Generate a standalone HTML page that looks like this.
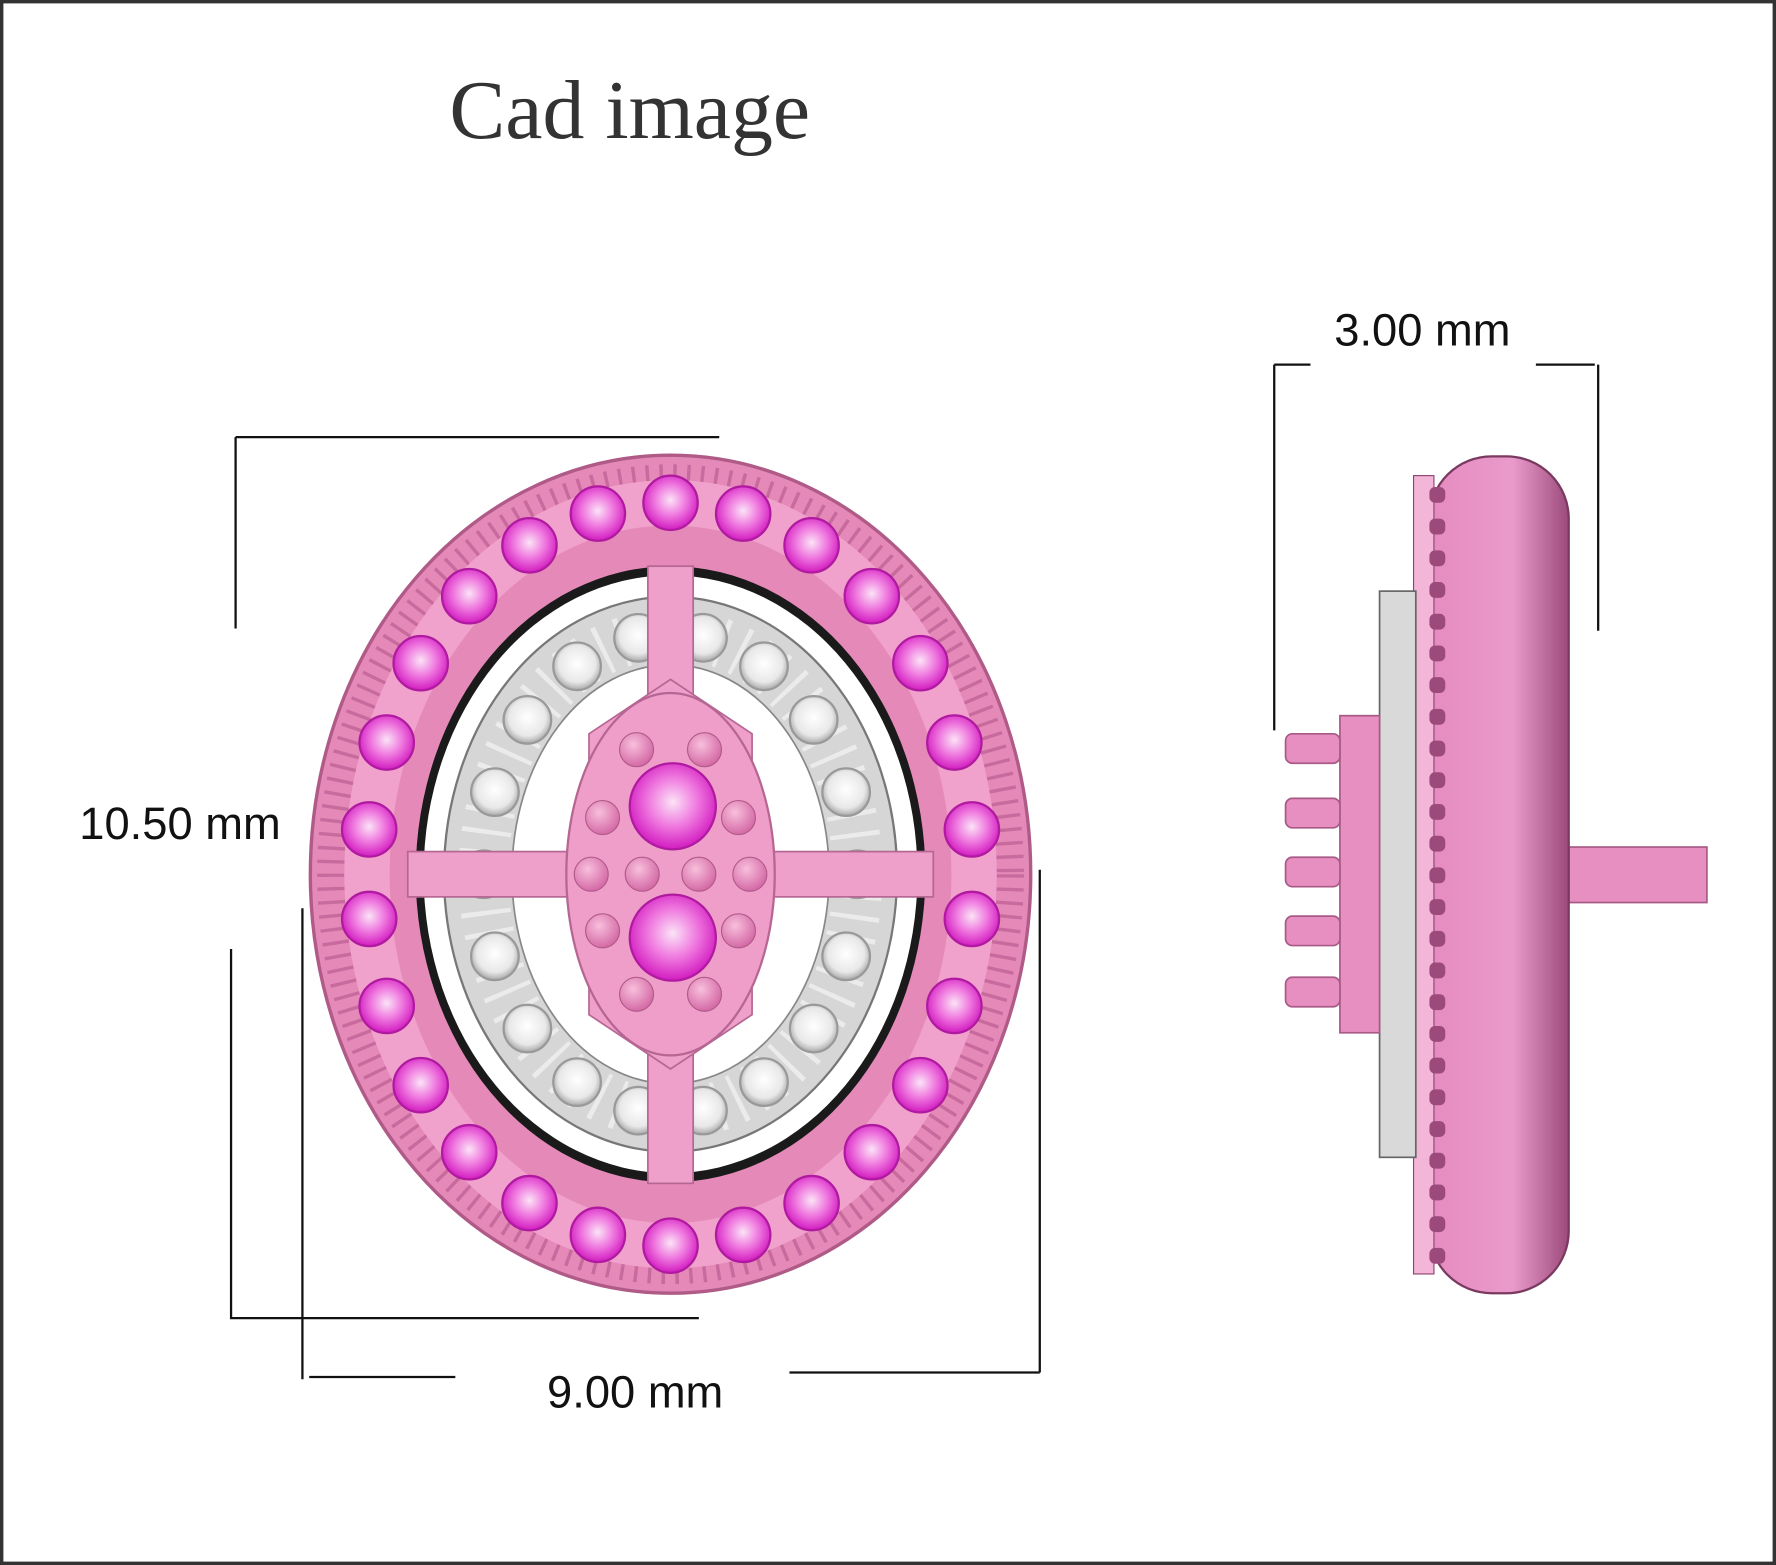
<!DOCTYPE html>
<html><head><meta charset="utf-8"><style>
html,body{margin:0;padding:0;background:#fff;}
svg{display:block;}
</style></head><body>
<svg width="1776" height="1565" viewBox="0 0 1568 1382" preserveAspectRatio="none" xmlns="http://www.w3.org/2000/svg">
<defs>
<radialGradient id="ps" cx="50%" cy="45%" r="55%"><stop offset="0" stop-color="#fbe3f6"/><stop offset="0.5" stop-color="#f07ce0"/><stop offset="1" stop-color="#d21cc0"/></radialGradient>
<radialGradient id="ws" cx="50%" cy="45%" r="55%"><stop offset="0" stop-color="#ffffff"/><stop offset="0.7" stop-color="#e8e8e8"/><stop offset="1" stop-color="#a8a8a8"/></radialGradient>
<radialGradient id="bead" cx="40%" cy="35%" r="65%"><stop offset="0" stop-color="#f8bfdc"/><stop offset="1" stop-color="#d46aa6"/></radialGradient>
<linearGradient id="side" x1="0" x2="1"><stop offset="0" stop-color="#e68bc0"/><stop offset="0.6" stop-color="#e99acb"/><stop offset="1" stop-color="#9c4a7c"/></linearGradient>
</defs>
<rect x="1.5" y="1.5" width="1565" height="1379" fill="#fff" stroke="#333" stroke-width="3"/>
<text x="556" y="122" font-family="Liberation Serif, serif" font-size="74" text-anchor="middle" fill="#333">Cad image</text>

<g stroke="#111" stroke-width="2" fill="none">
<path d="M208 386H635M208 386V555"/>
<path d="M204 838V1164H617"/>
<path d="M267 802V1218M273 1216H402M697 1212H918M918 768V1212"/>
<path d="M1125 322H1157M1356 322H1408M1125 322V645M1411 322V557"/>
</g>
<g font-family="Liberation Sans, sans-serif" font-size="40" fill="#111">
<text x="70" y="741">10.50 mm</text>
<text x="483" y="1243">9.00 mm</text>
<text x="1178" y="305">3.00 mm</text>
</g>

<ellipse cx="592" cy="772" rx="318" ry="370" fill="#e58ab8" stroke="#b05a88" stroke-width="3"/>
<ellipse cx="592" cy="772" rx="300" ry="350" fill="none" stroke="#c86a9e" stroke-width="24" stroke-dasharray="3 9"/>
<ellipse cx="592" cy="772" rx="268" ry="328" fill="none" stroke="#f1a2cc" stroke-width="40"/>
<g id="outerStones"></g>
<ellipse cx="592" cy="772" rx="225" ry="272" fill="#1a1a1a"/>
<ellipse cx="592" cy="772" rx="218" ry="264" fill="#fff"/>
<ellipse cx="592" cy="772" rx="200" ry="245" fill="#d6d6d6" stroke="#777" stroke-width="2"/>
<ellipse cx="592" cy="772" rx="165" ry="212" fill="none" stroke="#ebebeb" stroke-width="44" stroke-dasharray="4 14"/>
<g id="whiteStones"></g>
<ellipse cx="592" cy="772" rx="140" ry="185" fill="#fff" stroke="#888" stroke-width="1.5"/>
<g fill="#ee9fca" stroke="#b66692" stroke-width="1.5">
<rect x="572" y="500" width="40" height="545"/>
<rect x="360" y="752" width="464" height="40"/>
<polygon points="520,648 592,600 664,648 664,896 592,944 520,896"/>
</g>
<ellipse cx="592" cy="772" rx="92" ry="160" fill="#ef9ec9" stroke="#b66692" stroke-width="2"/>
<g fill="url(#bead)" stroke="#b05a88" stroke-width="1">
<circle cx="562" cy="662" r="15"/><circle cx="622" cy="662" r="15"/>
<circle cx="532" cy="722" r="15"/><circle cx="652" cy="722" r="15"/>
<circle cx="522" cy="772" r="15"/><circle cx="567" cy="772" r="15"/><circle cx="617" cy="772" r="15"/><circle cx="662" cy="772" r="15"/>
<circle cx="532" cy="822" r="15"/><circle cx="652" cy="822" r="15"/>
<circle cx="562" cy="878" r="15"/><circle cx="622" cy="878" r="15"/>
</g>
<circle cx="594" cy="712" r="38" fill="url(#ps)" stroke="#b01aa0" stroke-width="2"/>
<circle cx="594" cy="828" r="38" fill="url(#ps)" stroke="#b01aa0" stroke-width="2"/>

<rect x="1385" y="748" width="122" height="49" fill="#e78fc0" stroke="#a85a86" stroke-width="1.5"/>
<rect x="1262" y="403" width="123" height="739" rx="55" fill="url(#side)" stroke="#7a3a60" stroke-width="2"/>
<rect x="1248" y="420" width="18" height="705" fill="#f3b6d8" stroke="#8a4470" stroke-width="1"/>
<g id="teeth"></g>
<rect x="1218" y="522" width="32" height="500" fill="#d9d9d9" stroke="#666" stroke-width="1.5"/>
<rect x="1183" y="632" width="35" height="280" fill="#e78fc0" stroke="#a85a86" stroke-width="1.5"/>
<g fill="#e78fc0" stroke="#a85a86" stroke-width="1.5">
<rect x="1135" y="648" width="48" height="26" rx="6"/>
<rect x="1135" y="705" width="48" height="26" rx="6"/>
<rect x="1135" y="757" width="48" height="26" rx="6"/>
<rect x="1135" y="809" width="48" height="26" rx="6"/>
<rect x="1135" y="863" width="48" height="26" rx="6"/>
</g>
<script>
(function(){
var ns="http://www.w3.org/2000/svg";
function st(g,cx,cy,r,f,s){var c=document.createElementNS(ns,"circle");c.setAttribute("cx",cx);c.setAttribute("cy",cy);c.setAttribute("r",r);c.setAttribute("fill",f);c.setAttribute("stroke",s);c.setAttribute("stroke-width","2");g.appendChild(c);}
var g=document.getElementById("outerStones");
for(var i=0;i<26;i++){var a=i/26*2*Math.PI;st(g,592+268*Math.sin(a),772-328*Math.cos(a),24,"url(#ps)","#b01aa0");}
var w=document.getElementById("whiteStones");
for(var i=0;i<18;i++){var a=(i+0.5)/18*2*Math.PI;st(w,592+165*Math.sin(a),772-212*Math.cos(a),21,"url(#ws)","#999");}
var t=document.getElementById("teeth");
for(var y=430;y<1120;y+=28){var r=document.createElementNS(ns,"rect");r.setAttribute("x",1262);r.setAttribute("y",y);r.setAttribute("width",14);r.setAttribute("height",14);r.setAttribute("rx",5);r.setAttribute("fill","#9c4a7c");t.appendChild(r);}
})();
</script>
</svg>
</body></html>
